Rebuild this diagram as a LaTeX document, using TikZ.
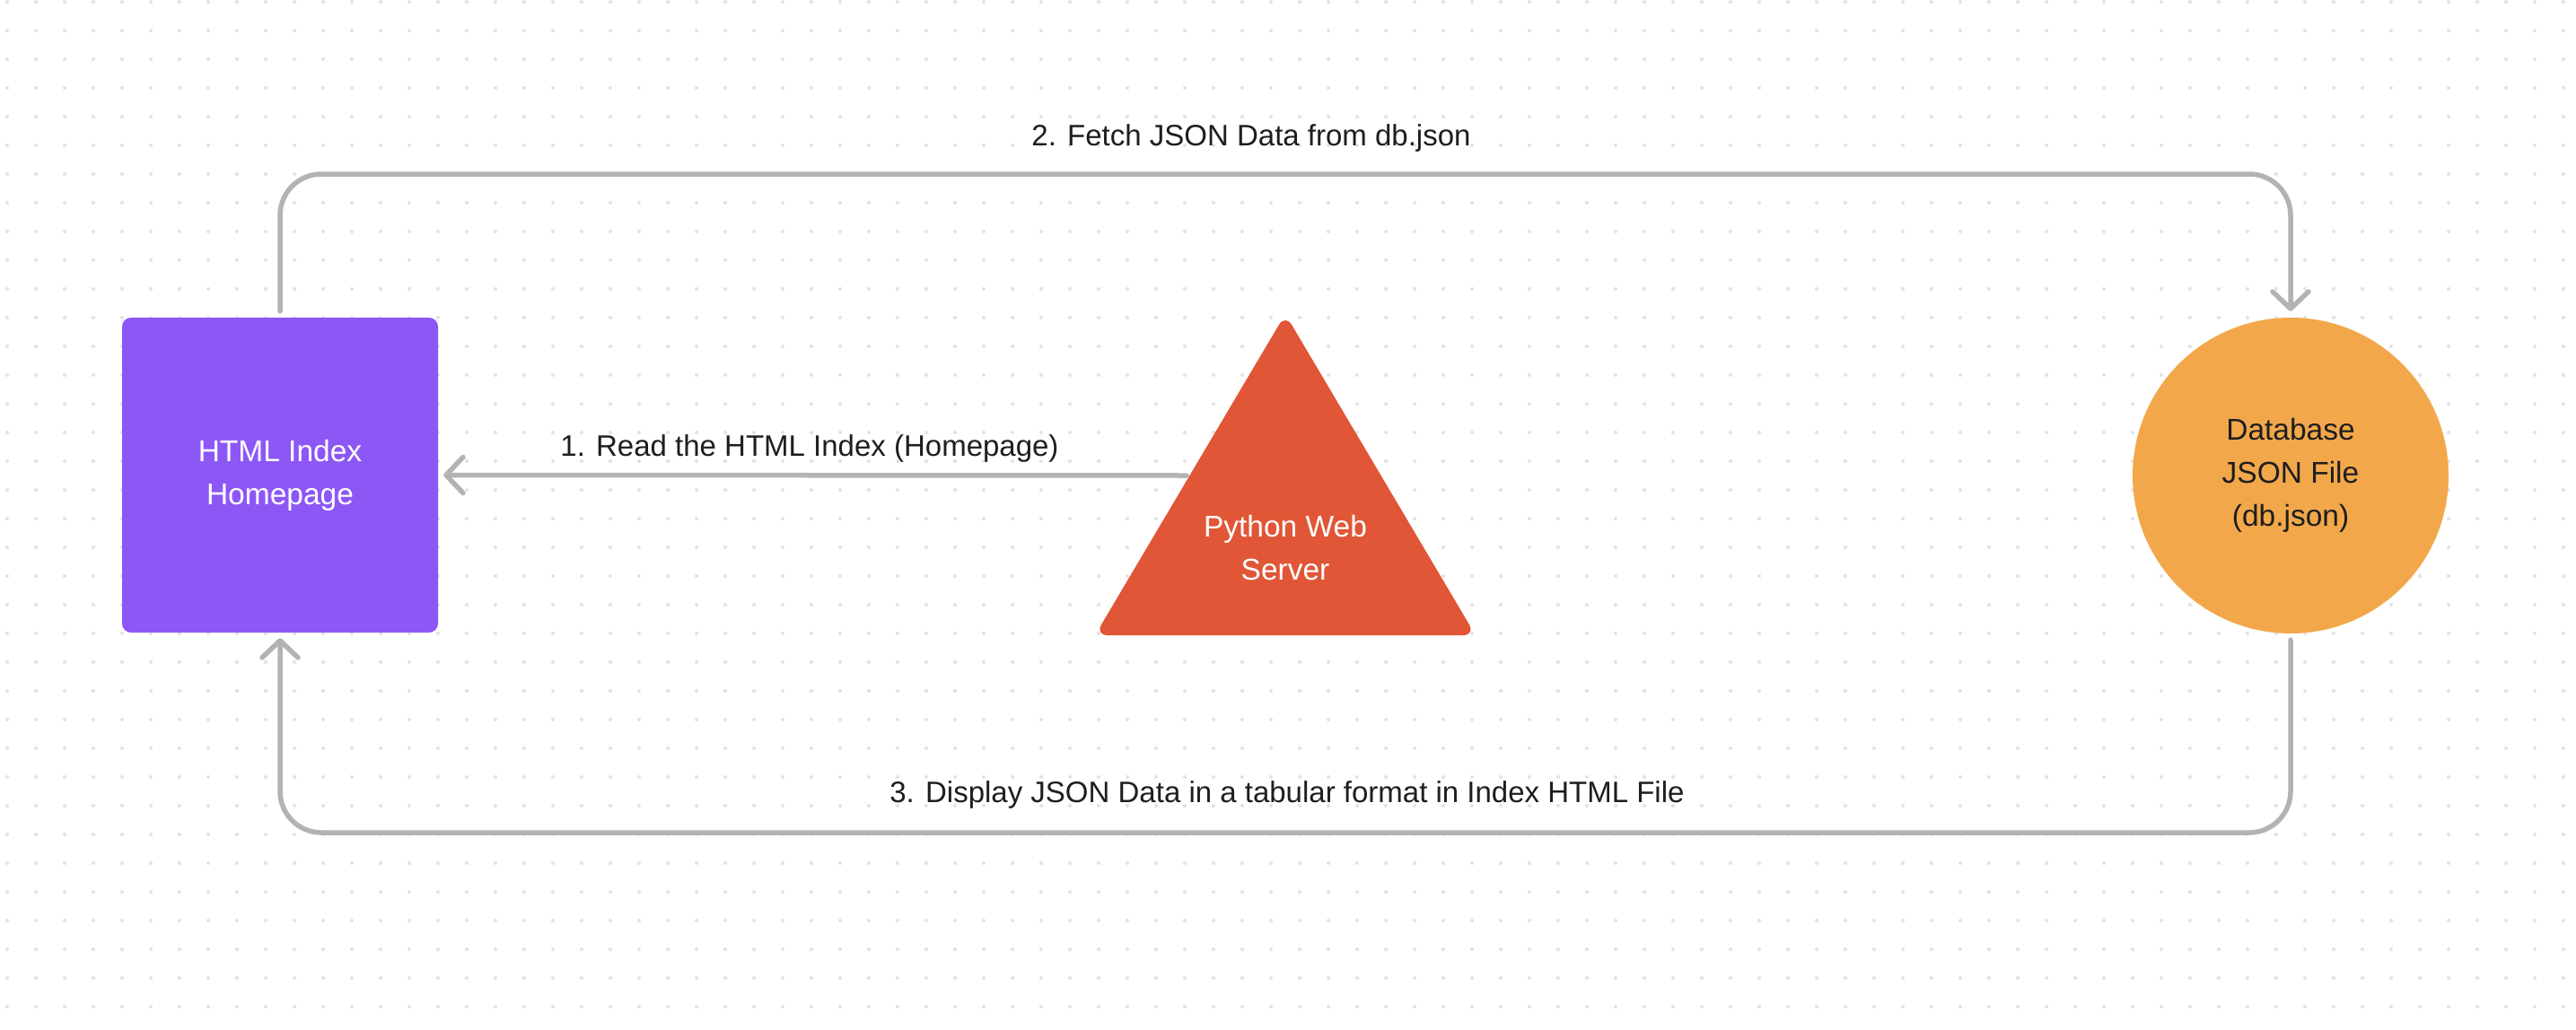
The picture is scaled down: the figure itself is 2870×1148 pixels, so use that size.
\documentclass[tikz,border=0pt]{standalone}
\usepackage{fontspec}
\setmainfont{Liberation Sans}
\usetikzlibrary{arrows.meta,calc}
\definecolor{conncol}{HTML}{B3B3B3}
\definecolor{dotcol}{HTML}{E2E2E2}
\definecolor{htmlcol}{HTML}{8D57F6}
\definecolor{pycol}{HTML}{E05636}
\definecolor{dbcol}{HTML}{F2A84A}
\definecolor{txtcol}{HTML}{1E1E1E}
\tikzset{
  conn/.style={draw=conncol, line width=5.5pt, line cap=round, line join=round, rounded corners=46pt},
  tip/.style={-{Straight Barb[length=19pt,width=40pt,line cap=round,line join=round]}},
  lbl/.style={text=txtcol, font=\fontsize{33pt}{48pt}\selectfont, inner sep=0pt},
  nodetext/.style={font=\fontsize{33.5pt}{48pt}\selectfont, align=center, inner sep=0pt},
}
\begin{document}
\begin{tikzpicture}[x=1pt,y=-1pt]
\useasboundingbox (0,0) rectangle (2870,1148);
\fill[white] (0,0) rectangle (2870,1148);
\foreach \i in {0,...,89}{
  \foreach \j in {0,...,35}{
    \fill[dotcol] (8+32*\i, 2+32*\j) circle (2pt);
  }
}
% nodes
\node[fill=htmlcol, rounded corners=10pt, minimum width=352pt, minimum height=351pt, inner sep=0pt,
      nodetext, text=white] (html) at (312,529.5) {HTML Index\\Homepage};
\fill[pycol, rounded corners=14pt] (1432,350) -- (1644,708) -- (1220,708) -- cycle;
\node[nodetext, text=white] (py) at (1432,611) {Python Web\\Server};
\coordinate (pyedge) at (1322,530);
\node[circle, fill=dbcol, minimum size=352pt, inner sep=0pt, nodetext, text=txtcol] (db) at (2552,530)
      {Database\\JSON File\\(db.json)};
% rails
\coordinate (toprail) at (0,194);
\coordinate (botrail) at (0,928);
% connectors
\draw[conn, tip] (pyedge) -- ([xshift=6pt]html.east);
\draw[conn, tip] ([yshift=7pt]html.north) -- (html.north |- toprail) -- (db.north |- toprail) -- ([yshift=7pt]db.north);
\draw[conn, tip] ([yshift=-7pt]db.south) -- (db.south |- botrail) -- (html.south |- botrail) -- ([yshift=-6pt]html.south);
% labels
\node[lbl] (l2) at (1394,154) {2. Fetch JSON Data from db.json};
\node[lbl] (l1) at (902,500) {1. Read the HTML Index (Homepage)};
\node[lbl] (l3) at (1434,886) {3. Display JSON Data in a tabular format in Index HTML File};
\end{tikzpicture}
\end{document}
